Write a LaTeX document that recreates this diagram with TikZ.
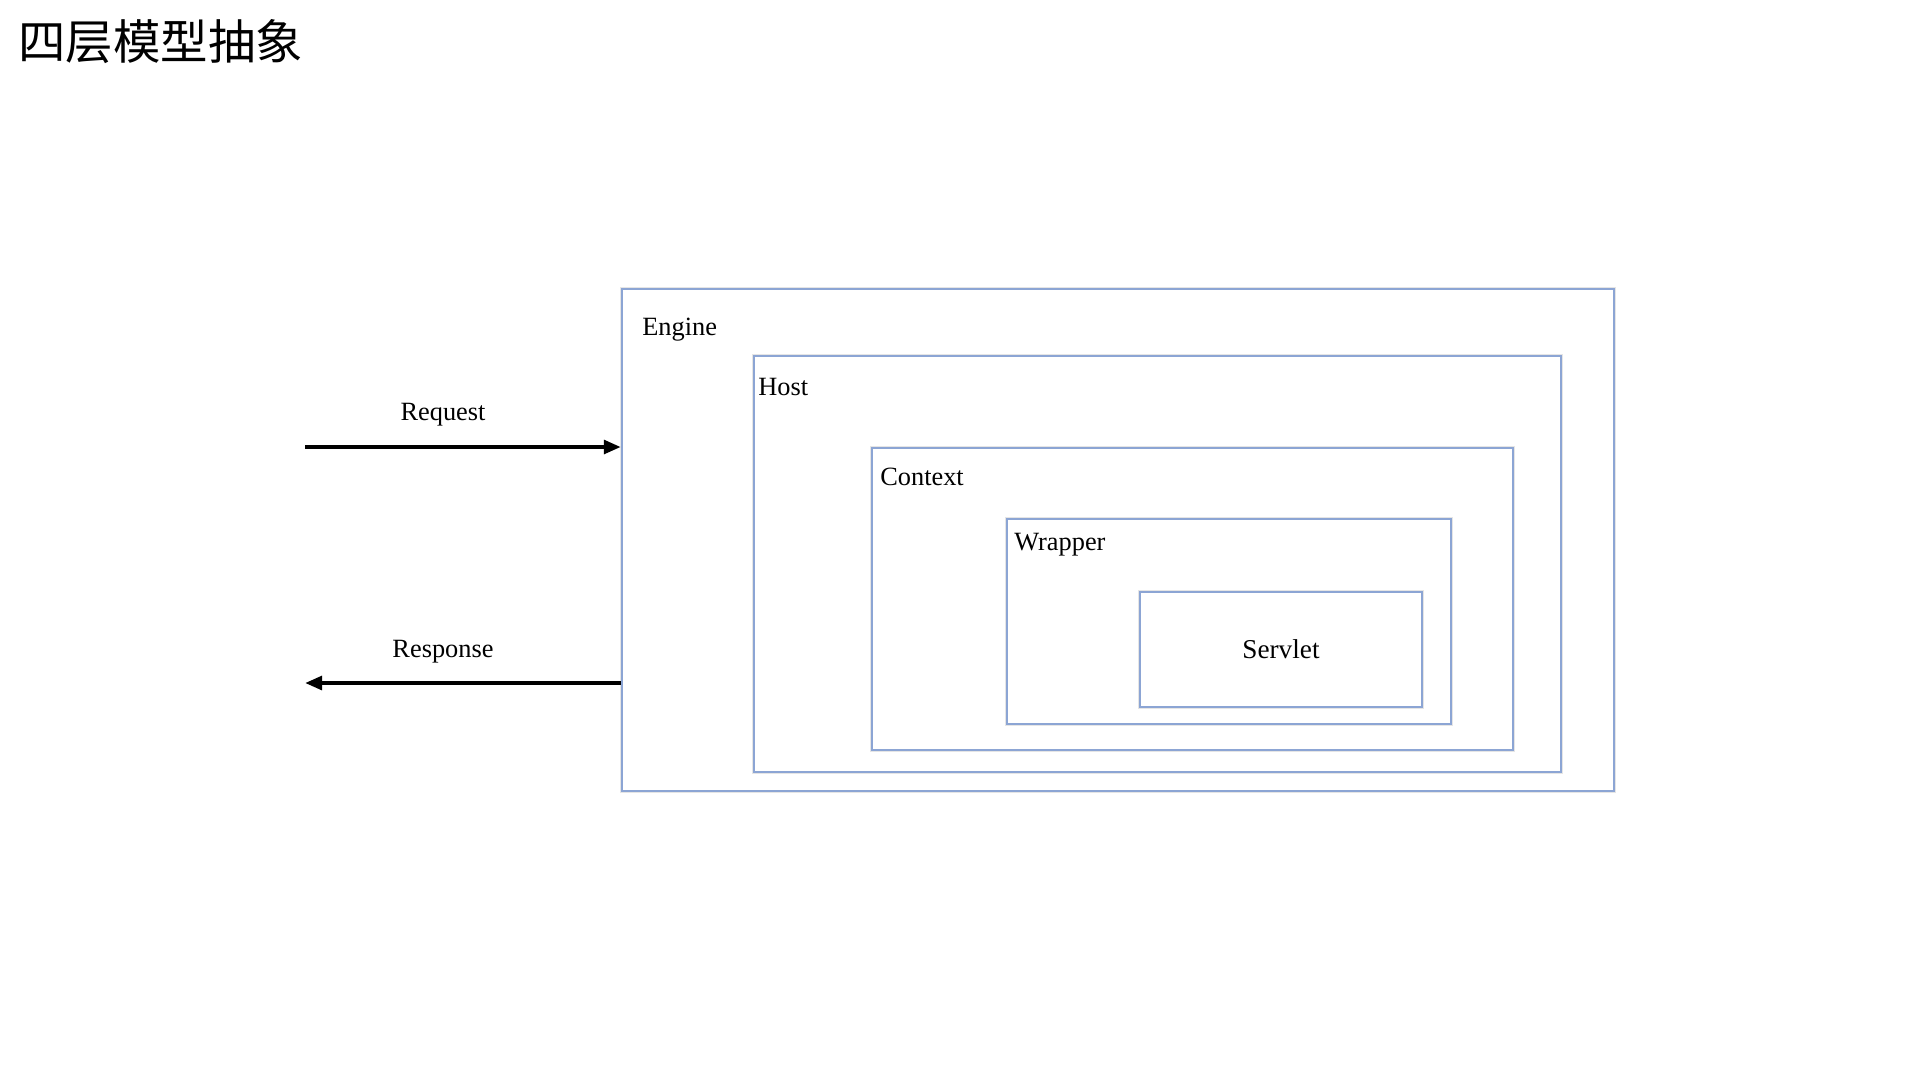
\documentclass[tikz,border=0pt]{standalone}
\usepackage{fontspec}
\setmainfont{Liberation Serif}
\newfontfamily\cjk{Noto Sans CJK SC}
\usetikzlibrary{arrows.meta,positioning,fit}

\definecolor{boxblue}{RGB}{140,165,212}

\tikzset{
  layer/.style={draw=boxblue, line width=1.3pt, inner sep=0pt, fill=white,
    preaction={draw=black!10, line width=2.8pt}},
  layername/.style={inner sep=0pt, anchor=base west,
    font=\fontsize{15pt}{18pt}\selectfont},
  flow/.style={line width=2.3pt, -{Triangle[length=0.34cm, width=0.27cm]}},
  flowname/.style={inner sep=0pt, anchor=base,
    font=\fontsize{15pt}{18pt}\selectfont}
}

\begin{document}
\begin{tikzpicture}[x=0.02cm, y=-0.02cm]
 \useasboundingbox (0,0) rectangle (1920,1080);

 \node[inner sep=0pt, anchor=west, font=\cjk\fontsize{27pt}{31pt}\selectfont]
   (title) at (18,42) {四层模型抽象};

 % nested layers
 \node[layer, fit={(622,289) (1614,791)}] (engine) {};
 \node[layer, fit={(754,356) (1561,772)}] (host) {};
 \node[layer, fit={(872,448) (1513,750)}] (context) {};
 \node[layer, fit={(1007,519) (1451,724)}] (wrapper) {};
 \node[layer, fit={(1140,592) (1422,707)}] (servlet) {};

 \node[layername] (enginename) at (642,335) {Engine};
 \node[layername] (hostname) at (758,395) {Host};
 \node[layername] (contextname) at (880,485) {Context};
 \node[layername] (wrappername) at (1014,550) {Wrapper};
 \node[flowname, anchor=center, font=\fontsize{15.5pt}{18pt}\selectfont]
   (servletname) at (servlet.center) {Servlet};

 % request / response
 \coordinate (reqstart) at (305,447);
 \coordinate (respend) at (305,683);
 \draw[flow] (reqstart) -- (reqstart -| engine.west);
 \draw[flow] (respend -| engine.west) -- (respend);

 \node[flowname] (reqname) at (443,420) {Request};
 \node[flowname] (respname) at (443,657) {Response};

\end{tikzpicture}
\end{document}
